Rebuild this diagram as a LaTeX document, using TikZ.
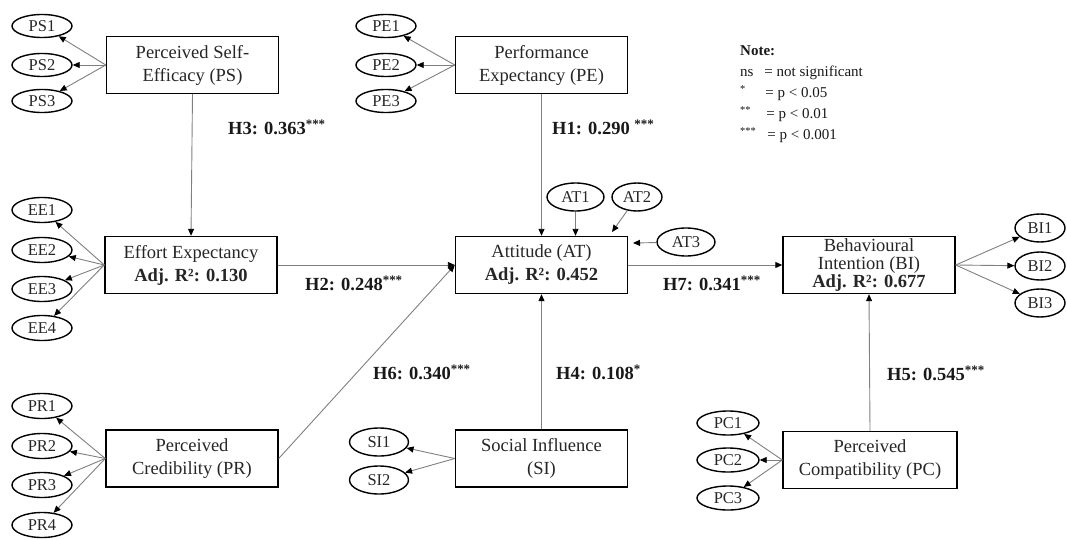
\documentclass[tikz,border=0pt]{standalone}
\usepackage{fontspec}
\setmainfont{Liberation Serif}
\usetikzlibrary{arrows.meta,shapes.geometric}

\begin{document}
\begin{tikzpicture}[x=1pt,y=-1pt,
  construct/.style={draw=black, line width=1.4pt, minimum width=172pt, minimum height=57pt,
    inner sep=0pt, align=center, text=black!85, font=\fontsize{18.5}{23}\selectfont},
  indicator/.style={draw=black, ellipse, line width=1.4pt, minimum width=60pt, minimum height=24pt,
    inner sep=0pt, text=black!85, font=\fontsize{16.5}{18}\selectfont},
  link/.style={draw=black!50, line width=0.9pt, -{Triangle[length=7pt,width=6pt,color=black]}},
  coef/.style={anchor=west, inner sep=0pt, text=black!90, font=\bfseries\fontsize{18.5}{22}\selectfont}
]
\fill[white] (0,0) rectangle (1067,540);
\useasboundingbox (0,0) rectangle (1067,540);

% latent constructs
\node[construct] (PS) at (192.5,65) {Perceived Self-\\Efficacy (PS)};
\node[construct] (PE) at (541.5,65) {Performance\\Expectancy (PE)};
\node[construct] (EE) at (191,265) {Effort Expectancy\\\textbf{Adj. R²: 0.130}};
\node[construct] (AT) at (541.5,265) {Attitude (AT)\\\textbf{Adj. R²: 0.452}};
\node[construct, font=\fontsize{18.5}{18}\selectfont] (BI) at (869,265) {Behavioural\\Intention (BI)\\\textbf{Adj. R²: 0.677}};
\node[construct] (PR) at (192,458.5) {Perceived\\Credibility (PR)};
\node[construct] (SI) at (541.5,458.5) {Social Influence\\(SI)};
\node[construct, minimum width=174pt] (PC) at (870,460) {Perceived\\Compatibility (PC)};

% indicators
\foreach \i/\y in {1/26,2/65,3/101}{
  \node[indicator, minimum height=23pt] (PS\i) at (42,\y) {PS\i};
  \node[indicator, minimum height=23pt] (PE\i) at (386,\y) {PE\i};
}
\foreach \i/\y in {1/210,2/250,3/289,4/328}
  \node[indicator, minimum height=25pt] (EE\i) at (42,\y) {EE\i};
\foreach \i/\y in {1/406,2/446,3/485,4/525}
  \node[indicator, minimum height=25pt] (PR\i) at (42,\y) {PR\i};
\node[indicator, minimum width=57pt, minimum height=28pt] (AT1) at (575.5,197) {AT1};
\node[indicator, minimum width=50pt, minimum height=28pt] (AT2) at (637,197) {AT2};
\node[indicator, minimum width=58pt, minimum height=28pt] (AT3) at (686,242) {AT3};
\foreach \i/\y in {1/228,2/266,3/303}
  \node[indicator, minimum width=50pt, minimum height=28pt] (BI\i) at (1040,\y) {BI\i};
\foreach \i/\y in {1/442,2/480}
  \node[indicator, minimum width=59pt, minimum height=28pt] (SI\i) at (379,\y) {SI\i};
\foreach \i/\y in {1/423,2/460,3/498}
  \node[indicator, minimum width=62pt, minimum height=24pt] (PC\i) at (728,\y) {PC\i};

% measurement links
\foreach \i in {1,2,3}{
  \draw[link] (PS.west) -- (PS\i);
  \draw[link] (PE.west) -- (PE\i);
  \draw[link] (BI.east) -- (BI\i);
  \draw[link] (PC.west) -- (PC\i);
}
\foreach \i in {1,2,3,4}{
  \draw[link] (EE.west) -- (EE\i);
  \draw[link] (PR.west) -- (PR\i);
}
\foreach \i in {1,2}
  \draw[link] (SI.west) -- (SI\i);
\draw[link] (AT1.south) -- (AT1.south |- AT.north);
\coordinate (at2tip) at (612,232);
\coordinate (at3tip) at (633,243);
\draw[link] (AT2) -- (at2tip);
\draw[link] (AT3) -- (at3tip);

% structural paths
\draw[link] (PS.south) -- (EE.north);
\draw[link] (PE.south) -- (AT.north);
\draw[link] (EE.east) -- (AT.west);
\draw[link] (PR.east) -- (AT.west);
\draw[link] (SI.north) -- (AT.south);
\draw[link] (AT.east) -- (BI.west);
\draw[link] (PC.north) -- (BI.south);

% path coefficients
\node[coef] (h3) at (228,127) {H3: 0.363\textsuperscript{***}};
\node[coef] (h1) at (552,127) {H1: 0.290 \textsuperscript{***}};
\node[coef] (h2) at (305,283) {H2: 0.248\textsuperscript{***}};
\node[coef] (h7) at (663,283) {H7: 0.341\textsuperscript{***}};
\node[coef] (h6) at (373,372) {H6: 0.340\textsuperscript{***}};
\node[coef] (h4) at (556,372) {H4: 0.108\textsuperscript{*}};
\node[coef] (h5) at (887,373) {H5: 0.545\textsuperscript{***}};

% significance legend
\node[anchor=north west, inner sep=0pt, text=black!90, font=\fontsize{15}{21}\selectfont] (note) at (740,41)
  {\begin{tabular}{@{}l@{\hspace{8pt}}l@{}}
   \multicolumn{2}{@{}l}{\textbf{Note:}}\\
   ns & = not significant\\
   \textsuperscript{*} & \hspace{1pt}= p < 0.05\\
   \textsuperscript{**} & \hspace{2pt}= p < 0.01\\
   \textsuperscript{***} & \hspace{3pt}= p < 0.001
   \end{tabular}};
\end{tikzpicture}
\end{document}
